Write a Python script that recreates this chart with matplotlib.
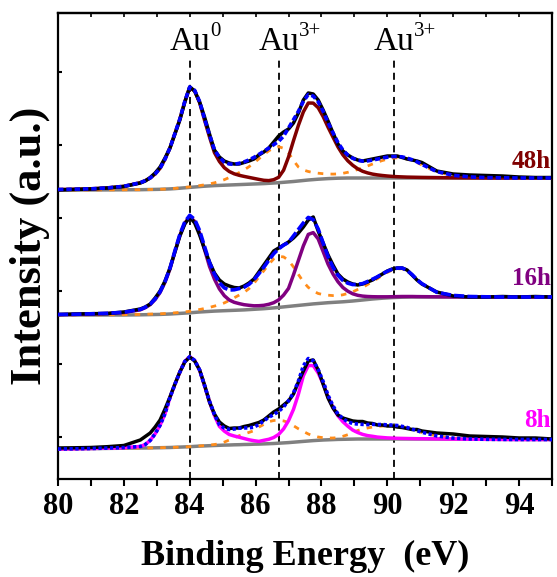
import numpy as np
import matplotlib
matplotlib.use("Agg")
import matplotlib.pyplot as plt
from matplotlib.ticker import MultipleLocator

plt.rcParams["font.family"] = ["Liberation Serif", "DejaVu Serif"]

# binding energy grid (eV): coarse at the ends, 0.15 eV across the peaks
energy = np.concatenate([
    np.arange(80.0, 82.1, 0.5),
    np.round(82.5 + 0.15 * np.arange(58), 2),
    np.arange(91.5, 95.1, 0.5),
])

# intensities (a.u.) above each spectrum's own starting level
# raw = measured, bg = Shirley background, au0 / au3 = fitted doublets above bg
raw_8h = [1, 1.2, 1.5, 2.3, 3.5,
          9, 12.5, 16, 22, 29, 40, 52, 65, 77, 87,
          92, 88, 79, 64, 47, 35, 27, 23, 20.5, 21,
          21, 22.5, 23.5, 25, 26.5, 29, 33, 37, 40, 44,
          48, 55, 67, 78, 88, 89, 79, 65, 51, 41,
          34, 31, 29.5, 28, 27.5, 27.5, 26, 25.5, 24, 24,
          23, 23, 22, 21.5, 20.5, 19.5, 19.5, 18,
          16, 15, 13, 12.5, 12, 11, 11, 10]
bg_8h = [0, 0.2, 0.4, 0.6, 0.8,
         1, 1, 1.1, 1.2, 1.3, 1.4, 1.5, 1.7, 1.9, 2.1,
         2.3, 2.6, 2.9, 3.1, 3.3, 3.5, 3.7, 3.9, 4.0, 4.2,
         4.3, 4.5, 4.6, 4.8, 4.9, 5.1, 5.3, 5.5, 5.8, 6.1,
         6.4, 6.8, 7.2, 7.6, 8.0, 8.4, 8.7, 9.0, 9.2, 9.4,
         9.6, 9.7, 9.8, 9.9, 10, 10, 10, 10, 10, 10,
         10, 10, 10, 10, 10, 10, 10, 10,
         10, 9.9, 9.8, 9.7, 9.6, 9.5, 9.5, 9.5]
au0_8h = [0, 0, 0.1, 0.3, 0.6,
          1.5, 3.5, 7.5, 14, 22.5, 34, 50, 63, 75, 85.5,
          90, 86, 76, 60, 44, 30, 19, 14, 10.5, 8.8,
          7.5, 6, 4.6, 3.5, 2.7, 3.6, 4.4, 6.0, 8.8, 14,
          21.9, 32.8, 47.7, 65.6, 75.5, 75, 67.4, 56.3, 42.7, 32.2,
          23.6, 17.6, 13, 9, 6.5, 4.6, 3.4, 2.7, 1.9, 1.5,
          1.1, 0.9, 0.7, 0.6, 0.5, 0.4, 0.3, 0.3,
          0.1, 0, 0, 0, 0, 0, 0, 0]
au3_8h = [0, 0, 0, 0, 0,
          0, 0, 0, 0, 0, 0, 0, 0, 0, 0,
          0, 0, 0.1, 0.3, 0.6, 1.0, 1.6, 3, 5, 7,
          9, 10.5, 12, 13.5, 17, 19.5, 22, 23, 23, 22,
          20, 16.5, 13, 10, 7, 4.8, 3.3, 2.3, 1.8, 1.6,
          1.8, 3, 4.5, 6.5, 8.5, 10, 11, 12, 12.5, 13,
          13, 13, 12.8, 12, 11, 9.5, 8, 6.5,
          3, 1, 0.3, 0, 0, 0, 0, 0]

raw_16h = [0.5, 1, 1.3, 1.5, 3,
           6, 8, 11, 17, 24, 34, 47, 63, 79, 91,
           98, 92, 80, 66, 53, 42, 35, 31, 29, 27.5,
           27, 29, 32, 36, 43, 50, 57, 64, 67, 70,
           73, 77, 82, 88, 95, 98, 84, 72, 60, 50,
           41, 36, 33, 31, 30, 31, 33, 35, 38, 41,
           44, 46, 47, 47, 45, 40, 35, 31,
           23, 19, 18, 18, 18.5, 18, 18.5, 18]
bg_16h = [0, 0, 0, 0, 0,
          0.2, 0.3, 0.4, 0.5, 0.6, 0.8, 1.0, 1.3, 1.6, 1.9,
          2.2, 2.6, 3.0, 3.3, 3.6, 3.9, 4.1, 4.3, 4.5, 4.7,
          4.9, 5.1, 5.4, 5.7, 6.0, 6.3, 6.7, 7.1, 7.6, 8.1,
          8.6, 9.1, 9.6, 10.1, 10.6, 11.1, 11.5, 11.9, 12.3, 12.6,
          12.9, 13.2, 13.6, 14.0, 14.5, 15.0, 15.5, 16.0, 16.4, 16.8,
          17.1, 17.4, 17.6, 17.8, 17.9, 18, 18, 18,
          18, 18, 18, 18, 18, 18, 18, 18]
au0_16h = [0.4, 0.6, 1, 1.5, 2.5,
           5, 7, 10, 15, 22, 32, 45, 62, 78, 90,
           96, 91, 79, 62, 45, 32, 22, 15, 10.5, 8,
           6.5, 5.2, 4.3, 3.5, 3.3, 3.4, 4, 5.2, 7.5, 11.8,
           18, 31, 45, 59, 70, 71.3, 64.6, 51.6, 38.5, 28.4,
           20.4, 14.3, 10.2, 7.2, 5.2, 3.9, 3, 2.3, 1.8, 1.4,
           1.1, 0.9, 0.8, 0.7, 0.6, 0.5, 0.4, 0.35,
           0.2, 0.1, 0, 0, 0, 0, 0, 0]
au3_16h = [0.1, 0.1, 0.2, 0.2, 0.3,
           0.4, 0.45, 0.5, 0.55, 0.6, 0.7, 0.8, 0.9, 1.0, 1.2,
           1.5, 2, 2.5, 3.2, 4, 5, 6.2, 7.8, 10, 12.5,
           15, 17.5, 21, 26, 32, 38, 44, 49, 51, 50,
           46, 39, 31, 23, 17, 13, 10, 8.5, 7.5, 6.8,
           6.5, 7, 8, 9.2, 11, 12.5, 15, 17.5, 20, 23,
           25.5, 27.5, 28.5, 28.5, 26, 22, 17, 13,
           4.5, 1.5, 0.5, 0.2, 0, 0, 0, 0]

raw_48h = [0, 0.5, 1, 2, 3.5,
           7, 9, 12.5, 17, 23, 32, 42, 56, 70, 88,
           103, 99, 88, 73, 56, 40, 33, 29, 27, 26,
           26, 27.5, 29, 31, 35, 38, 42, 48, 54, 58,
           61, 67, 77, 90, 97, 96, 90, 80, 69, 57,
           46, 39, 35, 32, 30, 29, 30, 31, 32, 33,
           34, 34, 34, 32.5, 31, 30, 29, 27.5,
           19, 16, 15, 14.5, 14, 13, 12.5, 12.5]
bg_48h = [0, 0, 0, 0.1, 0.2,
          0.3, 0.4, 0.5, 0.6, 0.7, 0.9, 1.1, 1.4, 1.8, 2.2,
          2.6, 3.0, 3.4, 3.8, 4.1, 4.4, 4.6, 4.8, 5.0, 5.2,
          5.4, 5.6, 5.8, 6.0, 6.2, 6.4, 6.7, 7.0, 7.3, 7.7,
          8.1, 8.5, 9.0, 9.5, 10.0, 10.4, 10.8, 11.1, 11.4, 11.6,
          11.8, 11.9, 12, 12, 12, 12, 12, 12, 12, 12,
          12, 12, 12, 12, 12, 12, 12, 12,
          12, 12, 12, 12, 12, 12, 12, 12]
au0_48h = [0.5, 0.8, 1.2, 2, 3.5,
           7, 9, 11.5, 15.5, 21, 30, 41, 55, 69, 86,
           100, 96, 84, 66, 49, 33, 24, 17.5, 13.5, 11,
           9.3, 8, 6.8, 5.6, 4.4, 3.3, 2.7, 3.3, 5.4, 12.1,
           24.9, 40.8, 55.7, 68.6, 77, 76.5, 71.5, 62.4, 51.4, 41.3,
           31.3, 23.3, 17.2, 12.7, 9.2, 6.7, 5.1, 3.9, 3.1, 2.5,
           2, 1.6, 1.3, 1.1, 0.9, 0.8, 0.7, 0.6,
           0.4, 0.2, 0.1, 0, 0, 0, 0, 0]
au3_48h = [0, 0, 0, 0, 0,
           0, 0, 0, 0, 0, 0, 0.1, 0.2, 0.3, 0.4,
           0.5, 0.7, 1, 1.4, 2, 2.8, 4, 5.5, 7.5, 9.5,
           12, 14.5, 17.5, 21, 25, 29, 32.5, 35, 36, 34,
           29, 21, 14, 10.5, 8.5, 7, 6, 5.2, 4.6, 4.3,
           4.3, 4.8, 5.7, 7, 8.5, 10.2, 12, 14, 15.8, 17.5,
           18.8, 19.8, 20.2, 20, 19, 17.5, 15.5, 13,
           6, 2.5, 1, 0.4, 0.2, 0, 0, 0]

samples = ["8h", "16h", "48h"]
offsets = [30, 164, 289]
sample_colors = ["#ff00ff", "#800080", "#800000"]
env_styles = [(0, (0.9, 0.7)), (0, (2.8, 0.9)), (0, (1.5, 0.8))]
label_y = [52, 194, 311]

spectra = {
    "8h": (raw_8h, bg_8h, au0_8h, au3_8h),
    "16h": (raw_16h, bg_16h, au0_16h, au3_16h),
    "48h": (raw_48h, bg_48h, au0_48h, au3_48h),
}

peak_pos = [84.0, 86.7, 90.2]
peak_sup = ["0", "3+", "3+"]

fig = plt.figure(figsize=(5.57, 5.77), dpi=100)
ax = fig.add_axes([58 / 557, 98 / 577, 494 / 557, 466 / 577])

for name, off, col, ls, ly in zip(samples, offsets, sample_colors, env_styles, label_y):
    raw, bg, au0, au3 = [np.array(a, dtype=float) for a in spectra[name]]
    envelope = bg + au0 + au3
    ax.plot(energy, off + bg, color="#808080", lw=2.5, zorder=2)
    ax.plot(energy, off + bg + au3, color="#ff8c1a", lw=2.0,
            linestyle=(0, (2.0, 2.6)), zorder=3)
    ax.plot(energy, off + bg + au0, color=col, lw=2.5, zorder=4)
    ax.plot(energy, off + raw, color="black", lw=2.5, zorder=5)
    ax.plot(energy, off + envelope, color="#0000ff", lw=2.6, linestyle=ls, zorder=6)
    ax.text(94.96, ly, name, ha="right", va="baseline", color=col,
            fontsize=18, fontweight="bold")

ax.vlines(peak_pos, 0, 419, colors="black", lw=1.3,
          linestyles=(0, (3.9, 2.8)), zorder=1)
for px, sup in zip(peak_pos, peak_sup):
    ax.text(px, 429, "Au", ha="center", va="baseline", fontsize=24)
    ax.annotate(sup, xy=(px, 429), xytext=(14.5, 10), textcoords="offset points",
                ha="left", va="baseline", fontsize=15)

ax.set_xlim(80, 95)
ax.set_ylim(0, 466)
ax.set_xticks(np.arange(80, 95, 2))
ax.xaxis.set_minor_locator(MultipleLocator(1))
ax.tick_params(axis="x", which="both", direction="out", length=5, width=1.5,
               labelsize=22, pad=4)
for lab in ax.get_xticklabels():
    lab.set_fontweight("bold")
ax.set_yticks([42 + 73 * k for k in range(6)])
ax.tick_params(axis="y", direction="in", length=3, width=1.5, labelleft=False)

top = ax.secondary_xaxis("top")
top.set_xticks(np.arange(80, 96, 1))
top.tick_params(direction="in", length=3, width=1.2, labeltop=False)

for sp in ax.spines.values():
    sp.set_linewidth(1.6)
top.spines["top"].set_linewidth(1.6)

ax.set_xlabel("Binding Energy  (eV)", fontsize=26, fontweight="bold", labelpad=14)
ax.set_ylabel("Intensity (a.u.)", fontsize=32, fontweight="bold", labelpad=6)

fig.savefig("out.png", dpi=100)
